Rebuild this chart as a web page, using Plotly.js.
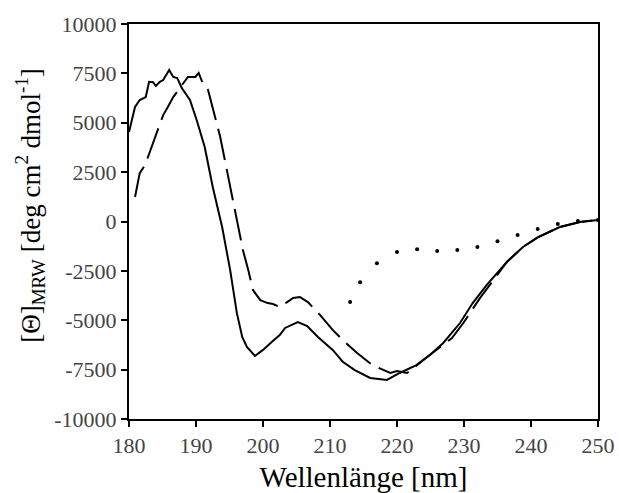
<!DOCTYPE html>
<html>
<head>
<meta charset="utf-8">
<script src="https://cdn.plot.ly/plotly-3.0.1.min.js"></script>
<style>html,body{margin:0;padding:0;background:#fff;}#chart{width:619px;height:493px;}</style>
</head>
<body>
<div id="chart"></div>
<script>
// Solid curve
const solidX = [180, 180.9, 181.6, 182.5, 183, 183.6, 184, 184.6, 185.1, 186, 186.6, 187.2, 187.9, 189.1, 190.1, 191.3, 192.5, 193.9, 195.1, 196.1, 196.9, 197.6, 198.8, 200, 201.3, 202.5, 203.3, 205.2, 206.6, 208.2, 210.4, 211.9, 213.7, 216, 218.5, 220.4, 222.9, 224.9, 226.9, 229.4, 231.3, 233.4, 236.4, 238.8, 241, 244.3, 247.3, 250];
const solidY = [4530, 5800, 6150, 6300, 7070, 7050, 6860, 7070, 7160, 7670, 7320, 7260, 6750, 6150, 5140, 3770, 1750, -280, -2460, -4640, -5850, -6350, -6810, -6500, -6100, -5750, -5390, -5090, -5290, -5850, -6500, -7100, -7520, -7920, -8020, -7670, -7270, -6760, -6150, -5140, -4130, -3210, -2050, -1290, -800, -280, -30, 80];
// Dashed curve
const dashX = [180.9, 181.6, 182.4, 183.6, 185.1, 185.8, 186.6, 187.9, 188.8, 189.9, 190.4, 191, 191.8, 193.6, 195.1, 197, 197.8, 198.5, 199.6, 200.7, 201.5, 202.5, 203.6, 204.5, 205.5, 206.7, 208.5, 210.4, 211.9, 214, 216.3, 218, 219, 220, 221.5, 224.5, 228.2, 229.9, 232.4, 236.4, 238.8, 241, 244.3, 247.3, 250];
const dashY = [1240, 2450, 2860, 3970, 5390, 5800, 6300, 6910, 7320, 7320, 7520, 7000, 6660, 4300, 1750, -1440, -2460, -3470, -3980, -4130, -4180, -4330, -4080, -3870, -3820, -4080, -4730, -5490, -6000, -6650, -7270, -7520, -7670, -7570, -7670, -6860, -5900, -5140, -3870, -2050, -1290, -800, -280, -30, 80];
// Dotted curve
const dotX = [213, 214.5, 217, 220, 223, 226, 229, 232, 235, 238, 241, 244, 247, 250];
const dotY = [-4080, -3080, -2110, -1550, -1410, -1490, -1440, -1290, -1000, -680, -380, -130, 30, 80];
// Tick labels
const xTicks = [180, 190, 200, 210, 220, 230, 240, 250];
const yTicks = [10000, 7500, 5000, 2500, 0, -2500, -5000, -7500, -10000];
const yTickText = ['10000', '7500', '5000', '2500', '0', '-2500', '-5000', '-7500', '-10000'];
const yTitle = '[Θ]<sub>MRW</sub> [deg cm<sup>2</sup> dmol<sup>-1</sup>]';

const traces = [
  {x: solidX, y: solidY, mode: 'lines', line: {color: 'black', width: 2}},
  {x: dashX, y: dashY, mode: 'lines', line: {color: 'black', width: 2, dash: '32px,9px'}},
  {x: dotX, y: dotY, mode: 'markers', marker: {color: 'black', size: 4}}
];

const layout = {
  width: 619, height: 493,
  margin: {l: 129, r: 21, t: 24, b: 74},
  showlegend: false,
  font: {family: 'Times New Roman', size: 22},
  xaxis: {
    range: [180, 250], tickmode: 'linear', tick0: 180, dtick: 10,
    showline: true, mirror: true, linecolor: 'black', linewidth: 2,
    ticks: 'outside', ticklen: 6, tickwidth: 2, tickcolor: 'black',
    showgrid: false, zeroline: false,
    title: {text: 'Wellenlänge [nm]', font: {family: 'Times New Roman', size: 29, color: 'black'}}
  },
  yaxis: {
    range: [-10000, 10000], tickvals: yTicks, ticktext: yTickText,
    showline: true, mirror: true, linecolor: 'black', linewidth: 2,
    ticks: 'outside', ticklen: 6, tickwidth: 2, tickcolor: 'black',
    showgrid: false, zeroline: false
  },
  annotations: [{
    text: yTitle, xref: 'paper', yref: 'paper', x: -0.211, y: 0.54,
    xanchor: 'center', yanchor: 'middle', textangle: -90, showarrow: false,
    font: {family: 'Times New Roman', size: 27, color: 'black'}
  }]
};

Plotly.newPlot('chart', traces, layout, {staticPlot: true});
</script>
</body>
</html>
